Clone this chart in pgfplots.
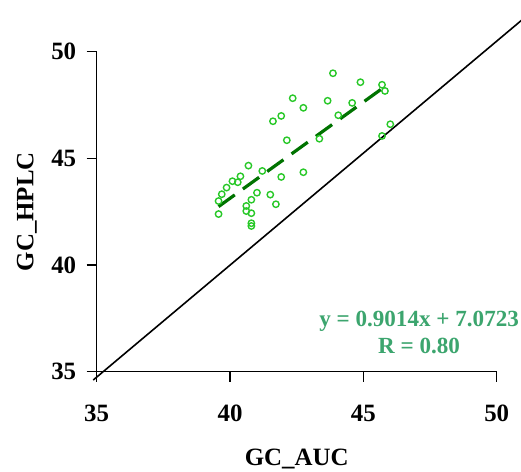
\documentclass[border=0pt]{standalone}
\usepackage{fontspec}
\setmainfont{Liberation Serif}
\usepackage{pgfplots}
\pgfplotsset{compat=1.18}

\definecolor{ptgreen}{RGB}{40,200,40}
\definecolor{fitgreen}{RGB}{0,115,0}
\definecolor{eqgreen}{RGB}{60,165,110}

\begin{document}
\begin{tikzpicture}
\begin{axis}[
    name=ax,
    scale only axis,
    width=400bp, height=320bp,
    xmin=35, xmax=50, ymin=35, ymax=50,
    xtick={35,40,45,50}, ytick={35,40,45,50},
    axis lines=left,
    axis line style={-, line width=1.2bp},
    tick align=outside,
    major tick length=10bp,
    tick style={line width=1.2bp, black},
    clip=false,
    /pgf/number format/assume math mode=true,
    ticklabel style={font=\fontsize{25}{30}\selectfont\bfseries},
    xticklabel style={yshift=-20bp},
    yticklabel style={xshift=-7bp},
    label style={font=\fontsize{25}{30}\selectfont\bfseries},
    xlabel={GC\_AUC},
    ylabel={GC\_HPLC},
    xlabel style={at={(axis description cs:0.5,-0.2916)}, anchor=base},
    ylabel style={at={(axis description cs:-0.1585,0.5)}, anchor=base},
]
% measured points
\addplot[only marks, mark=o, mark size=3.2bp, ptgreen, mark options={line width=1.4bp, fill=white}] coordinates {
(42.35,47.82) (42.75,47.37) (41.92,46.99) (41.61,46.74) (42.13,45.85)
(43.35,45.92) (40.69,44.66) (41.21,44.41) (40.39,44.16) (40.09,43.93)
(40.29,43.88) (39.87,43.63) (39.69,43.32) (39.57,43.00) (39.57,42.39)
(41.92,44.13) (42.75,44.35) (41.01,43.39) (41.51,43.30) (40.80,43.06)
(41.72,42.85) (40.61,42.77) (40.61,42.53) (40.80,42.43) (40.80,41.96)
(40.80,41.83) (43.66,47.70) (43.86,48.99) (44.89,48.57) (45.70,48.45)
(45.81,48.16) (44.58,47.60) (44.06,47.02) (46.01,46.60) (45.70,46.05)
};
% regression line y = 0.9014x + 7.0723
\addplot[fitgreen, line width=3.2bp, dash pattern=on 20bp off 10bp] coordinates {
(39.57,42.74) (45.81,48.37)
};
% reference line
\addplot[black, line width=1.6bp] coordinates {(34.87,34.61) (51.3,51.86)};
\node[anchor=base, text=eqgreen, font=\fontsize{23.2}{27}\selectfont\bfseries] at (axis cs:47.09,37.11) {y = 0.9014x + 7.0723};
\node[anchor=base, text=eqgreen, font=\fontsize{23.2}{27}\selectfont\bfseries] at (axis cs:47.09,35.86) {R = 0.80};
\end{axis}
\pgfresetboundingbox
\path ([shift={(-96.7bp,-100.3bp)}]ax.south west) rectangle ++(521bp,472bp);
\end{tikzpicture}
\end{document}
